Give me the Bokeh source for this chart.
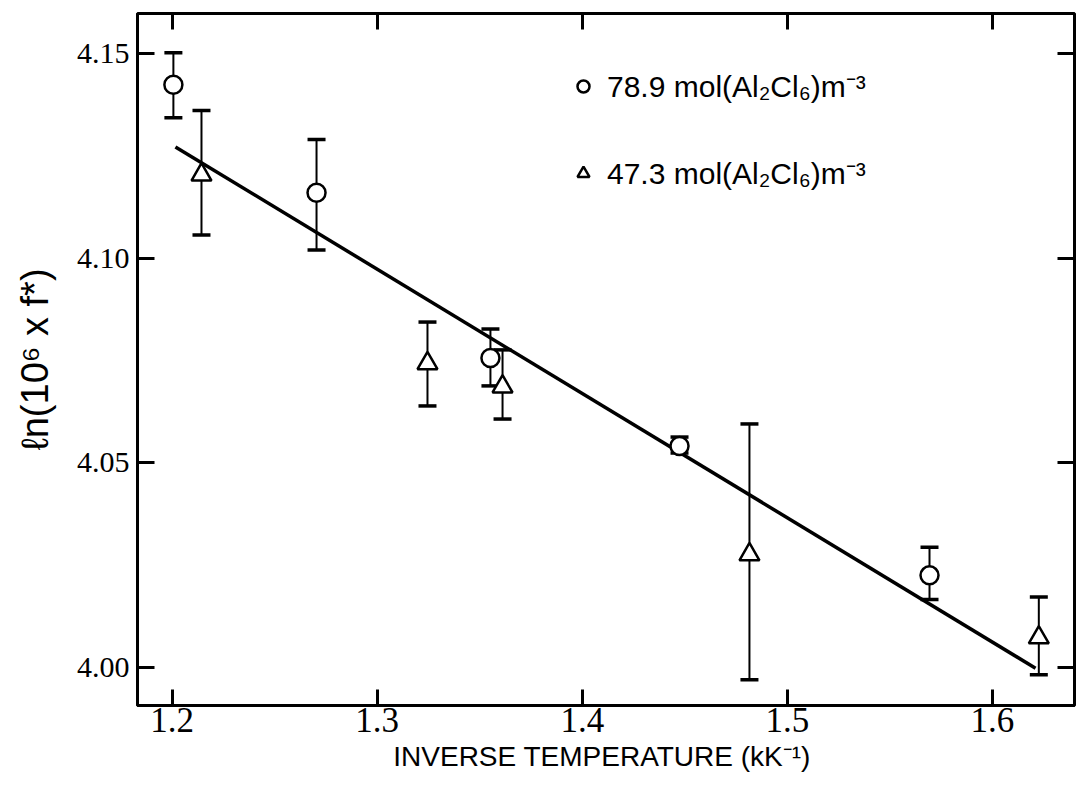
from bokeh.plotting import figure
from bokeh.models import (Range1d, LinearAxis, FixedTicker, Whisker, TeeHead,
                          ColumnDataSource, Legend, LegendItem)
from bokeh.embed import file_html
from bokeh.resources import INLINE

# ---- data ----
circle_x = [1.2006, 1.2704, 1.3552, 1.4474, 1.5693]
circle_y = [4.1424, 4.1160, 4.0756, 4.0541, 4.0225]
circle_hi = [4.1502, 4.1290, 4.0827, 4.0563, 4.0294]
circle_lo = [4.1343, 4.1020, 4.0688, 4.0524, 4.0166]

tri_x = [1.2143, 1.3245, 1.3611, 1.4815, 1.6226]
tri_y = [4.1204, 4.0743, 4.0686, 4.0276, 4.0073]
tri_hi = [4.1361, 4.0844, 4.0776, 4.0595, 4.0172]
tri_lo = [4.1057, 4.0639, 4.0607, 3.9970, 3.9982]

fit_x = [1.2016, 1.6210]
fit_y = [4.1272, 3.9998]

x_ticks = [1.2, 1.3, 1.4, 1.5, 1.6]
x_tick_labels = ["1.2", "1.3", "1.4", "1.5", "1.6"]
y_ticks = [4.00, 4.05, 4.10, 4.15]
y_tick_labels = ["4.00", "4.05", "4.10", "4.15"]

legend_labels = ["78.9 mol(Al\u2082Cl\u2086)m\u207b\u00b3",
                 "47.3 mol(Al\u2082Cl\u2086)m\u207b\u00b3"]
x_label = "INVERSE  TEMPERATURE (kK\u207b\u00b9)"
y_label = "\u2113n(10\u2076 x f*)"

NARROW = "Liberation Sans Narrow"
REG = "Liberation Sans"

p = figure(width=1077, height=785, output_backend="svg", toolbar_location=None,
           x_range=Range1d(1.1831, 1.6400), y_range=Range1d(3.9907, 4.1598),
           min_border_left=137, min_border_right=3, min_border_top=13,
           min_border_bottom=80, background_fill_color="white",
           border_fill_color="white")
p.grid.visible = False
p.outline_line_color = "black"
p.outline_line_width = 3
p.outline_line_alpha = 1.0

# bottom axis
xa = p.xaxis[0]
xa.ticker = FixedTicker(ticks=x_ticks)
xa.major_label_overrides = dict(zip(x_ticks, x_tick_labels))
xa.major_tick_in = 16
xa.major_tick_out = 0
xa.major_tick_line_width = 3
xa.minor_tick_line_color = None
xa.axis_line_width = 3
xa.major_label_text_font = NARROW
xa.major_label_text_font_size = "35px"
xa.major_label_text_color = "black"
xa.major_label_standoff = 2
xa.axis_label = x_label
xa.axis_label_text_font = REG
xa.axis_label_text_font_style = "normal"
xa.axis_label_text_font_size = "28px"
xa.axis_label_text_color = "black"
xa.axis_label_standoff = 6

# left axis
ya = p.yaxis[0]
ya.ticker = FixedTicker(ticks=y_ticks)
ya.major_label_overrides = dict(zip(y_ticks, y_tick_labels))
ya.major_tick_in = 17
ya.major_tick_out = 0
ya.major_tick_line_width = 3
ya.minor_tick_line_color = None
ya.axis_line_width = 3
ya.major_label_text_font = NARROW
ya.major_label_text_font_size = "30px"
ya.major_label_text_color = "black"
ya.major_label_standoff = 8
ya.axis_label = y_label
ya.axis_label_text_font = REG
ya.axis_label_text_font_style = "normal"
ya.axis_label_text_font_size = "38px"
ya.axis_label_text_color = "black"
ya.axis_label_standoff = 18

# top and right tick-only axes
top = LinearAxis(ticker=FixedTicker(ticks=x_ticks),
                 major_label_overrides={t: "" for t in x_ticks},
                 major_label_text_font_size="0px", major_label_standoff=0,
                 major_tick_in=16, major_tick_out=0, major_tick_line_width=3,
                 minor_tick_line_color=None, axis_line_color=None)
right = LinearAxis(ticker=FixedTicker(ticks=y_ticks),
                   major_label_overrides={t: "" for t in y_ticks},
                   major_label_text_font_size="0px", major_label_standoff=0,
                   major_tick_in=17, major_tick_out=0, major_tick_line_width=3,
                   minor_tick_line_color=None, axis_line_color=None)
p.add_layout(top, "above")
p.add_layout(right, "right")

# error bars
csrc = ColumnDataSource(dict(x=circle_x, y=circle_y, hi=circle_hi, lo=circle_lo))
tsrc = ColumnDataSource(dict(x=tri_x, y=tri_y, hi=tri_hi, lo=tri_lo))
for src in (csrc, tsrc):
    w = Whisker(source=src, base="x", upper="hi", lower="lo",
                line_color="black", line_width=2,
                upper_head=TeeHead(size=18, line_width=3.5, line_color="black"),
                lower_head=TeeHead(size=18, line_width=3.5, line_color="black"))
    p.add_layout(w)

# fitted line
p.line(fit_x, fit_y, line_color="black", line_width=3.5)

# markers
rc = p.scatter("x", "y", source=csrc, marker="circle", size=18,
               fill_color="white", line_color="black", line_width=2.5)
rt = p.scatter("x", "y", source=tsrc, marker="triangle", size=20,
               fill_color="white", line_color="black", line_width=2.5)

legend = Legend(items=[LegendItem(label=legend_labels[0], renderers=[rc]),
                       LegendItem(label=legend_labels[1], renderers=[rt])],
                location=(431, 512), orientation="vertical",
                glyph_width=30, glyph_height=30, label_height=30,
                label_standoff=9, spacing=46, padding=0, margin=0,
                border_line_color=None, background_fill_alpha=0,
                label_text_font=REG, label_text_font_size="30px",
                label_text_color="black")
p.add_layout(legend)

open("out.html", "w").write(file_html(p, INLINE))
